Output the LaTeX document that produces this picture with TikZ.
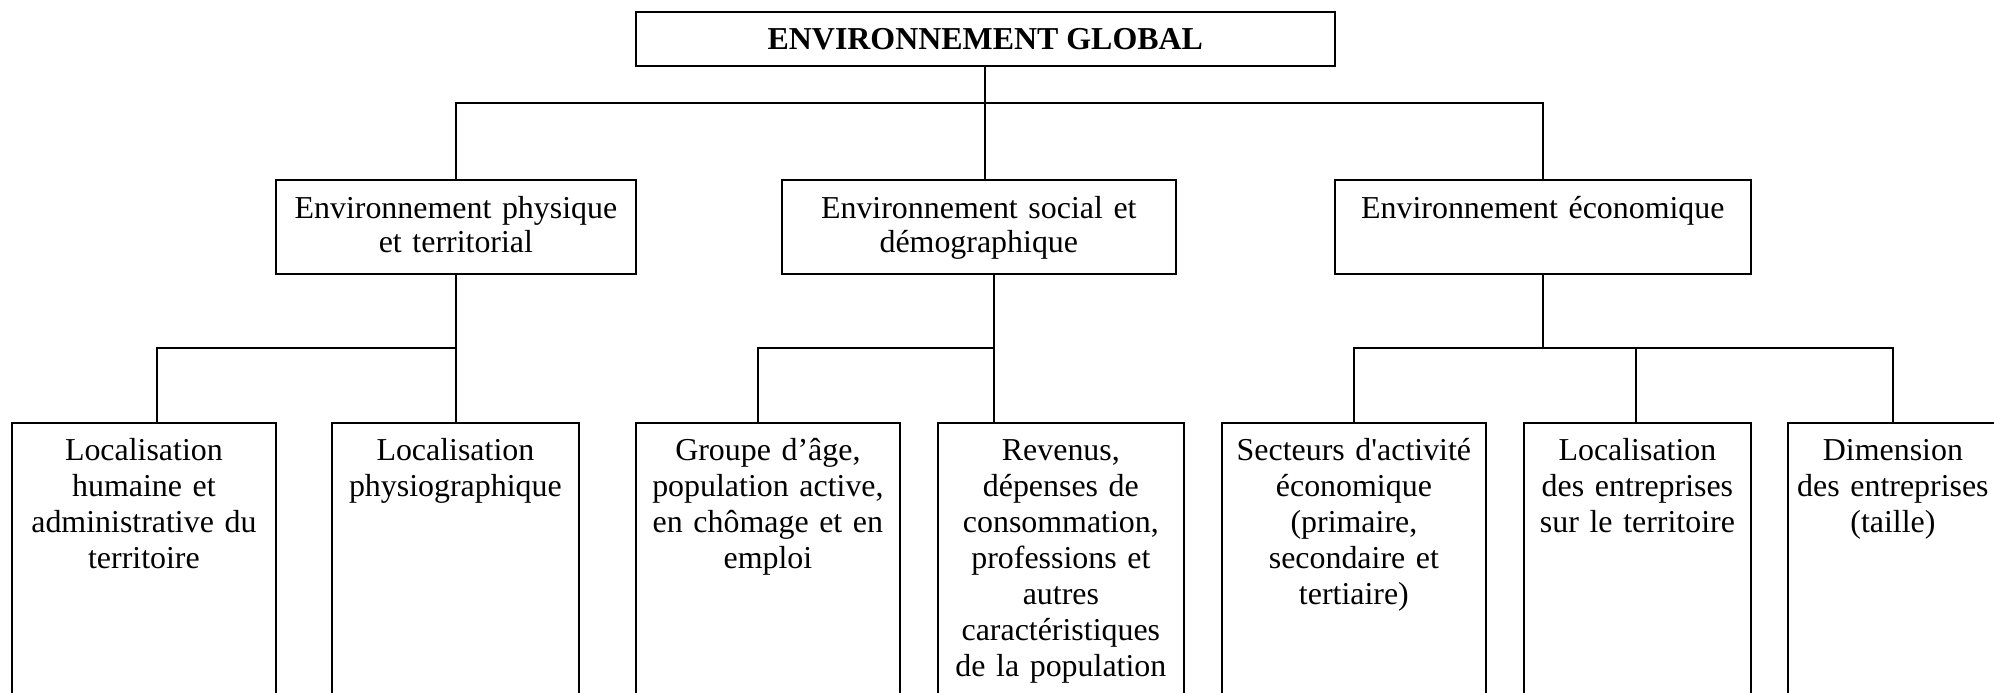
\documentclass[tikz,border=0pt]{standalone}
\usepackage{fontspec}
\setmainfont{Liberation Serif}[Ligatures=TeXOff]

\begin{document}
\begin{tikzpicture}[x=0.376pt, y=-0.376pt, line width=0.65pt,
	head/.style={rectangle, draw, anchor=north west, inner sep=0pt, minimum height=20.3pt, font=\fontsize{12}{13.5}\selectfont\bfseries},
	theme/.style={rectangle, draw, anchor=north west, align=center, inner sep=0pt, text height=14.55pt, text depth=20.8pt, font=\fontsize{12}{12.8}\selectfont},
	facet/.style={rectangle, draw, anchor=north west, align=center, inner sep=0pt, text height=14.3pt, text depth=98pt, font=\fontsize{12}{13.5}\selectfont}]
	\useasboundingbox (0,0) rectangle (1994,693);
	\clip (0,0) rectangle (1994,693);

	% nodes
	\node[head, minimum width=262.8pt] (envg) at (635,11) {ENVIRONNEMENT GLOBAL};%

	\node[theme, text width=135.4pt] (phys) at (275,179) {Environnement physique\\et territorial}; %
	\node[theme, text width=148.1pt] (soc) at (781,179) {Environnement social et\\démographique}; %
	\node[theme, text width=156.4pt] (eco) at (1334,179) {Environnement économique}; %

	\node[facet, text width=99.3pt] (hum) at (11,422) {Localisation\\humaine et\\administrative du\\territoire}; %
	\node[facet, text width=92.9pt] (physio) at (331,422) {Localisation\\physiographique}; %
	\node[facet, text width=99.3pt] (age) at (635,422) {Groupe d’âge,\\population active,\\en chômage et en\\emploi}; %
	\node[facet, text width=92.5pt] (rev) at (937,422) {Revenus,\\dépenses de\\consommation,\\professions et\\autres\\caractéristiques\\de la population}; %
	\node[facet, text width=99.3pt] (sect) at (1221,422) {Secteurs d'activité\\économique\\(primaire,\\secondaire et\\tertiaire)}; %
	\node[facet, text width=85.4pt] (loc) at (1523,422) {Localisation\\des entreprises\\sur le territoire}; %
	\node[facet, text width=79pt] (dim) at (1787,422) {Dimension\\des entreprises\\(taille)}; %

	% junctions
	\coordinate (bus0) at (984,103);
	\coordinate (busA) at (157,348);
	\coordinate (busB) at (758,348);
	\coordinate (drop) at (994,348);
	\coordinate (busC) at (1542,348);
	\coordinate (busD) at (1636,348);

	% edges
	\draw (envg.south) -- (envg.south |- soc.north);
	\draw (phys.north) |- (bus0) -| (eco.north);
	\draw (phys.south) -- (phys.south |- physio.north);
	\draw (busA |- hum.north) |- (phys.south |- busA);
	\draw (busB |- age.north) |- (drop);
	\draw (drop |- soc.south) -- (drop |- rev.north);
	\draw (eco.south) -- (eco.south |- busC);
	\draw (sect.north) |- (busC) -| (dim.north);
	\draw (busD |- loc.north) -- (busD);
\end{tikzpicture}
\end{document}
